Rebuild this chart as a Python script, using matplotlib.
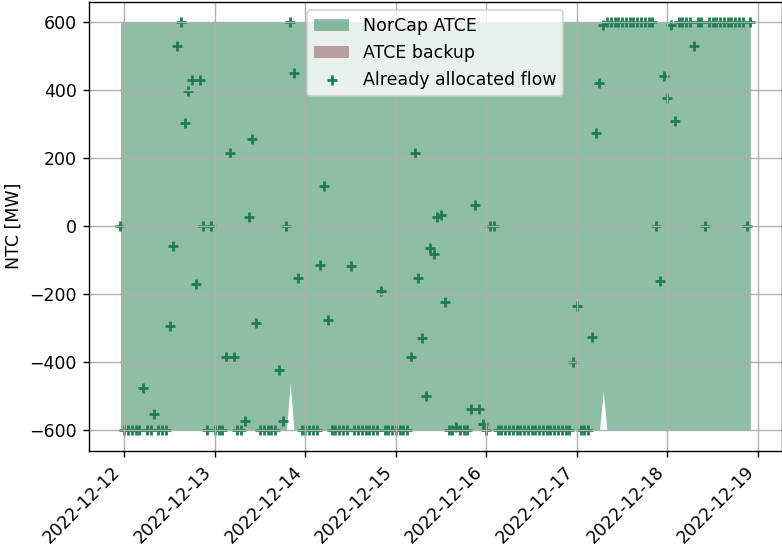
import matplotlib
matplotlib.use("Agg")
import matplotlib.pyplot as plt
import matplotlib.dates as mdates
import numpy as np
import pandas as pd

plt.rcParams['font.family'] = ['DejaVu Sans']
plt.rcParams['font.size'] = 10

# hourly timestamps
start_time = "2022-12-11 23:00"
n_hours = 168

# NorCap ATCE band (upper / lower), MW
ntc_max = [
    600, 600, 600, 600, 600, 600, 600, 600, 600, 600, 600, 600, 600, 600, 600, 600, 600, 600, 600, 600, 600, 600, 600, 600,
    600, 600, 600, 600, 600, 600, 600, 600, 600, 600, 600, 600, 600, 600, 600, 600, 600, 600, 600, 600, 600, 600, 600, 600,
    600, 600, 600, 600, 600, 600, 600, 600, 600, 600, 600, 600, 600, 600, 600, 600, 600, 600, 600, 600, 600, 600, 600, 600,
    600, 600, 600, 600, 600, 600, 600, 600, 600, 600, 600, 600, 600, 600, 600, 600, 600, 600, 600, 600, 600, 600, 600, 600,
    600, 600, 600, 600, 600, 600, 600, 600, 600, 600, 600, 600, 600, 600, 600, 600, 600, 600, 600, 600, 600, 600, 600, 600,
    600, 600, 600, 600, 600, 600, 600, 600, 600, 600, 600, 600, 600, 600, 600, 600, 600, 600, 600, 600, 600, 600, 600, 600,
    600, 600, 600, 600, 600, 600, 600, 600, 600, 600, 600, 600, 600, 600, 600, 600, 600, 600, 600, 600, 600, 600, 600, 600,
]
ntc_min = [
    -600, -600, -600, -600, -600, -600, -600, -600, -600, -600, -600, -600, -600, -600, -600, -600, -600, -600, -600, -600, -600, -600, -600, -600,
    -600, -600, -600, -600, -600, -600, -600, -600, -600, -600, -600, -600, -600, -600, -600, -600, -600, -600, -600, -600, -600, -462, -600, -600,
    -600, -600, -600, -600, -600, -600, -600, -600, -600, -600, -600, -600, -600, -600, -600, -600, -600, -600, -600, -600, -600, -600, -600, -600,
    -600, -600, -600, -600, -600, -600, -600, -600, -600, -600, -600, -600, -600, -600, -600, -600, -600, -600, -600, -600, -600, -600, -600, -600,
    -600, -600, -600, -600, -600, -600, -600, -600, -600, -600, -600, -600, -600, -600, -600, -600, -600, -600, -600, -600, -600, -600, -600, -600,
    -600, -600, -600, -600, -600, -600, -600, -600, -487, -600, -600, -600, -600, -600, -600, -600, -600, -600, -600, -600, -600, -600, -600, -600,
    -600, -600, -600, -600, -600, -600, -600, -600, -600, -600, -600, -600, -600, -600, -600, -600, -600, -600, -600, -600, -600, -600, -600, -600,
]

# already allocated flow, MW
allocated_flow = [
    0, -600, -600, -600, -600, -600, -475, -600, -600, -551, -600, -600, -600, -294, -59, 530, 600, 302, 398, 429, -171, 429, 0, -600,
    0, -600, -600, -600, -384, 214, -384, -600, -600, -573, 27, 256, -286, -600, -600, -600, -600, -600, -424, -573, 0, 600, 449, -151,
    -600, -600, -600, -600, -600, -113, 118, -275, -600, -600, -600, -600, -600, -116, -600, -600, -600, -600, -600, -600, -600, -190, -600, -600,
    -600, -600, -600, -600, -600, -384, 216, -152, -330, -500, -64, -82, 27, 32, -224, -600, -600, -590, -600, -600, -600, -538, 62, -538,
    -581, -600, 0, 0, -600, -600, -600, -600, -600, -600, -600, -600, -600, -600, -600, -600, -600, -600, -600, -600, -600, -600, -600, -600,
    -399, -235, -600, -600, -600, -327, 273, 421, 591, 600, 600, 600, 600, 600, 600, 600, 600, 600, 600, 600, 600, 600, 0, -160,
    441, 377, 591, 310, 600, 600, 600, 600, 529, 600, 600, 0, 600, 600, 600, 600, 600, 600, 600, 600, 600, 600, 0, 600,
]

times = pd.date_range(start_time, periods=n_hours, freq="h")

fig = plt.figure(figsize=(782 / 125, 546 / 125), dpi=125)
ax = fig.add_axes([0.1138, 0.1745, 0.886, 0.8225])

ax.fill_between(times, ntc_min, ntc_max, color="#1f7f4f", alpha=0.5,
                linewidth=0, label="NorCap ATCE")
ax.fill_between(times, ntc_max, ntc_max, color="#8f4b55", alpha=0.5,
                linewidth=0, label="ATCE backup")
ax.scatter(times, allocated_flow, marker="+", s=36, linewidths=1.6,
           color="#1f7d50", label="Already allocated flow")

ax.set_ylabel("NTC [MW]")
ax.grid(True)
ax.xaxis.set_major_locator(mdates.DayLocator())
ax.xaxis.set_major_formatter(mdates.DateFormatter("%Y-%m-%d"))
plt.setp(ax.get_xticklabels(), rotation=45, ha="right")
ax.set_yticks([-600, -400, -200, 0, 200, 400, 600])
ax.legend(loc="upper center")

fig.savefig("out.png", dpi=125)
